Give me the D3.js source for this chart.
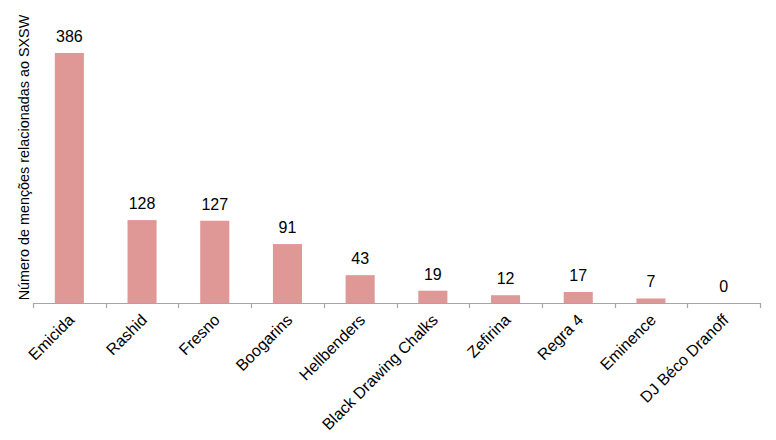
<!DOCTYPE html>
<html><head><meta charset="utf-8">
<script src="https://cdn.jsdelivr.net/npm/d3@7"></script>
<style>body{margin:0;background:#fff}svg{display:block}</style>
</head><body>
<svg id="c" width="776" height="440"></svg>
<script>
const categories = ["Emicida","Rashid","Fresno","Boogarins","Hellbenders","Black Drawing Chalks","Zefirina","Regra 4","Eminence","DJ Béco Dranoff"];
const values = [386,128,127,91,43,19,12,17,7,0];
const yTitle = "Número de menções relacionadas ao SXSW";

(function(){
const svg = d3.select("#c");
const font = "'Liberation Sans', Arial, Helvetica, sans-serif";
const plotLeft = 33, plotRight = 760, base = 303, plotTop = 53;
const x = d3.scaleBand().domain(categories).range([plotLeft, plotRight]).paddingInner(0.6).paddingOuter(0.3);
const y = d3.scaleLinear().domain([0, 386]).range([base, plotTop]);

svg.selectAll("rect.bar").data(values).join("rect")
  .attr("class","bar")
  .attr("x",(d,i)=>x(categories[i]))
  .attr("width",x.bandwidth())
  .attr("y",d=>y(d))
  .attr("height",d=>base-y(d))
  .attr("fill","#e09896");

svg.selectAll("text.val").data(values).join("text")
  .attr("class","val")
  .attr("x",(d,i)=>x(categories[i])+x.bandwidth()/2)
  .attr("y",d=>y(d)-11)
  .attr("text-anchor","middle")
  .attr("font-family",font).attr("font-size",16).attr("fill","#000")
  .text(d=>d);

const step = (plotRight-plotLeft)/categories.length;
const g = svg.append("g");
g.append("line").attr("x1",plotLeft).attr("x2",plotRight).attr("y1",base+0.5).attr("y2",base+0.5).attr("stroke","#a6a6a6").attr("stroke-width",1.2);
d3.range(categories.length+1).forEach(i=>{
  const tx = Math.round(plotLeft+i*step)+0.5;
  g.append("line").attr("x1",tx).attr("x2",tx).attr("y1",base).attr("y2",base+5).attr("stroke","#a6a6a6").attr("stroke-width",1.2);
});

svg.selectAll("text.cat").data(categories).join("text")
  .attr("class","cat")
  .attr("transform",d=>`translate(${x(d)+x.bandwidth()/2+6},${base+18}) rotate(-45)`)
  .attr("text-anchor","end")
  .attr("font-family",font).attr("font-size",16).attr("fill","#000")
  .text(d=>d);

svg.append("text")
  .attr("transform",`translate(29,${(15+300)/2}) rotate(-90)`)
  .attr("text-anchor","middle")
  .attr("font-family",font).attr("font-size",14.4).attr("fill","#000")
  .text(yTitle);
})();
</script>
</body></html>
